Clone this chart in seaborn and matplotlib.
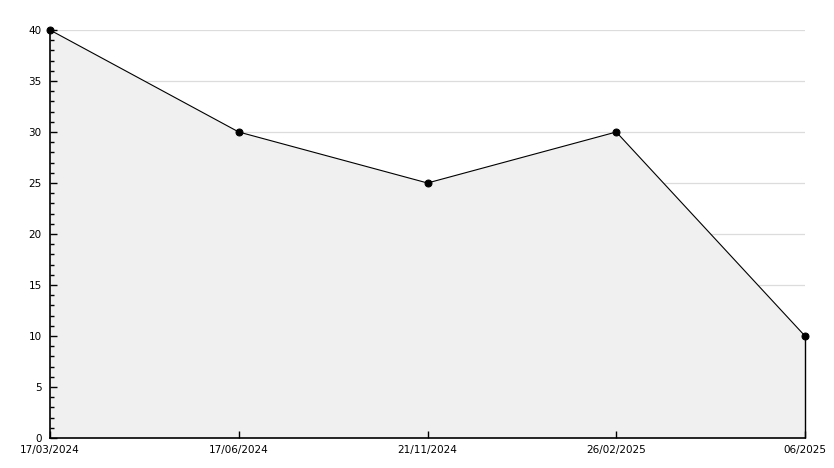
import numpy as np
import pandas as pd
import matplotlib
matplotlib.use("Agg")
import matplotlib.pyplot as plt
from matplotlib.ticker import MultipleLocator
import seaborn as sns

dates = ["17/03/2024", "17/06/2024", "21/11/2024", "26/02/2025", "06/2025"]
values = [40, 30, 25, 30, 10]
grid_levels = [5, 10, 15, 20, 25, 30, 35, 40]

sns.set_style("ticks")
plt.rcParams["font.family"] = ["DejaVu Sans"]
plt.rcParams["text.color"] = "black"
plt.rcParams["xtick.color"] = "black"
plt.rcParams["ytick.color"] = "black"

df = pd.DataFrame({"pos": np.arange(len(dates)), "value": values})

fig = plt.figure(figsize=(8.34, 4.68), dpi=100)
ax = fig.add_axes([50 / 834, 1 - 438 / 468, 755 / 834, 408 / 468])

# grid drawn by hand so it sits behind the area while ticks stay on top
for lvl in grid_levels:
    ax.axhline(lvl, color="#dcdcdc", linewidth=0.9, zorder=0.5)

ax.fill_between(df["pos"], df["value"], 0, facecolor="#f0f0f0",
                edgecolor="none", zorder=1)
sns.lineplot(data=df, x="pos", y="value", color="black", linewidth=0.8,
             marker="o", markersize=5, markeredgecolor="black", ax=ax,
             zorder=3, clip_on=False)
# closing edge of the area at the last point
ax.vlines(df["pos"].iloc[-1], 0, df["value"].iloc[-1], color="black",
          linewidth=1, zorder=2, clip_on=False)

ax.set_xlim(0, len(dates) - 1)
ax.set_ylim(0, 40)
ax.set_xticks(df["pos"])
ax.set_xticklabels(dates)
ax.yaxis.set_major_locator(MultipleLocator(5))
ax.yaxis.set_minor_locator(MultipleLocator(1))
ax.set_axisbelow(False)

for side in ["top", "right"]:
    ax.spines[side].set_visible(False)
for side in ["left", "bottom"]:
    ax.spines[side].set_color("black")
    ax.spines[side].set_linewidth(1.2)

ax.tick_params(axis="y", which="major", left=True, direction="in", length=5,
               width=1, color="black", labelsize=7.5, labelcolor="black", pad=6)
ax.tick_params(axis="y", which="minor", left=True, direction="in", length=3,
               width=1, color="black")
ax.tick_params(axis="x", which="major", bottom=True, direction="in", length=5,
               width=1, color="black", labelsize=7.5, labelcolor="black", pad=5)
ax.set_xlabel("")
ax.set_ylabel("")

fig.savefig("out.png", dpi=100)
